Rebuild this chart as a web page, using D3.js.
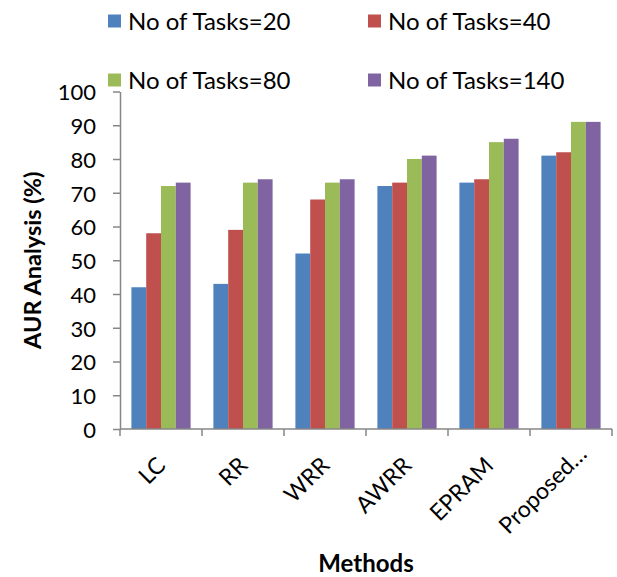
<!DOCTYPE html>
<html>
<head>
<meta charset="utf-8">
<script src="https://cdn.jsdelivr.net/npm/d3@7"></script>
<style>
  html, body { margin: 0; padding: 0; background: #fff; }
  svg { display: block; }
  text { font-family: Lato, "Open Sans", sans-serif; fill: #000; }
</style>
</head>
<body>
<svg id="chart" width="617" height="577"></svg>
<script>
// Methods compared on the x axis
const methods = ["LC", "RR", "WRR", "AWRR", "EPRAM", "Proposed\u2026"];
// One series per task count
const seriesNames = ["No of Tasks=20", "No of Tasks=40", "No of Tasks=80", "No of Tasks=140"];
const tasks20  = [42, 43, 52, 72, 73, 81];
const tasks40  = [58, 59, 68, 73, 74, 82];
const tasks80  = [72, 73, 73, 80, 85, 91];
const tasks140 = [73, 74, 74, 81, 86, 91];
const seriesValues = [tasks20, tasks40, tasks80, tasks140];
const yTicks = [0, 10, 20, 30, 40, 50, 60, 70, 80, 90, 100];
const colors = ["#4F81BD", "#C0504D", "#9BBB59", "#8064A2"];

const svg = d3.select("#chart");
const plot = { left: 120, right: 612, top: 91.5, bottom: 429 };
const axisColor = "#868686";

const x0 = d3.scaleBand().domain(methods).range([plot.left, plot.right]).padding(0);
const x1 = d3.scaleBand().domain(d3.range(seriesNames.length))
  .range([0, x0.bandwidth()]).paddingInner(0).paddingOuter(0.77);
const y = d3.scaleLinear().domain([0, 100]).range([plot.bottom, plot.top]);

// Bars
const groups = svg.append("g").selectAll("g")
  .data(methods)
  .join("g")
  .attr("transform", d => `translate(${x0(d)},0)`);

groups.selectAll("rect")
  .data((m, i) => seriesValues.map((vals, s) => ({ s, v: vals[i] })))
  .join("rect")
  .attr("x", d => x1(d.s))
  .attr("width", x1.bandwidth())
  .attr("y", d => y(d.v))
  .attr("height", d => y(0) - y(d.v))
  .attr("fill", d => colors[d.s]);

// Y axis
const yAxis = svg.append("g")
  .attr("transform", `translate(${plot.left},0)`)
  .call(d3.axisLeft(y).tickValues(yTicks).tickSize(7).tickPadding(17).tickSizeOuter(0));
yAxis.select(".domain").attr("stroke", axisColor).attr("stroke-width", 1.5);
yAxis.selectAll(".tick line").attr("stroke", axisColor).attr("stroke-width", 1.5);
yAxis.selectAll(".tick text")
  .attr("font-family", "Lato, sans-serif")
  .attr("font-size", 22)
  .attr("dy", "0.38em")
  .attr("fill", "#000");

// X axis: line with tick marks at category boundaries
const xAxisG = svg.append("g");
xAxisG.append("line")
  .attr("x1", plot.left).attr("x2", plot.right)
  .attr("y1", y(0)).attr("y2", y(0))
  .attr("stroke", axisColor).attr("stroke-width", 1.5);
const boundaries = methods.map(m => x0(m)).concat([x0(methods[methods.length - 1]) + x0.bandwidth()]);
xAxisG.selectAll("line.tk")
  .data(boundaries)
  .join("line")
  .attr("class", "tk")
  .attr("x1", d => d).attr("x2", d => d)
  .attr("y1", y(0)).attr("y2", y(0) + 7)
  .attr("stroke", axisColor).attr("stroke-width", 1.5);

// Rotated category labels
const labelShift = m => (m.startsWith("Proposed") ? 16 : 0);
xAxisG.selectAll("text.cat")
  .data(methods)
  .join("text")
  .attr("class", "cat")
  .attr("transform", m => `translate(${x0(m) + x0.bandwidth() / 2},461) rotate(-45)`)
  .attr("x", labelShift)
  .attr("dy", "0.36em")
  .attr("text-anchor", "end")
  .attr("font-size", 23)
  .text(m => m);

// Axis titles
svg.append("text")
  .attr("transform", `translate(41,${(plot.top + plot.bottom) / 2}) rotate(-90)`)
  .attr("text-anchor", "middle")
  .attr("font-size", 23.5)
  .attr("font-weight", "bold")
  .text("AUR Analysis (%)");

svg.append("text")
  .attr("x", (plot.left + plot.right) / 2)
  .attr("y", 572)
  .attr("text-anchor", "middle")
  .attr("font-size", 24)
  .attr("font-weight", "bold")
  .text("Methods");

// Legend, two columns by two rows
const legendPos = [
  { x: 108, y: 21 }, { x: 368, y: 21 },
  { x: 108, y: 80 }, { x: 368, y: 80 }
];
const legend = svg.append("g").selectAll("g")
  .data(seriesNames)
  .join("g")
  .attr("transform", (d, i) => `translate(${legendPos[i].x},${legendPos[i].y})`);
legend.append("rect")
  .attr("x", 0).attr("y", -6.5)
  .attr("width", 13).attr("height", 13)
  .attr("fill", (d, i) => colors[i]);
legend.append("text")
  .attr("x", 20)
  .attr("dy", "0.36em")
  .attr("font-size", 24)
  .text(d => d);
</script>
</body>
</html>
